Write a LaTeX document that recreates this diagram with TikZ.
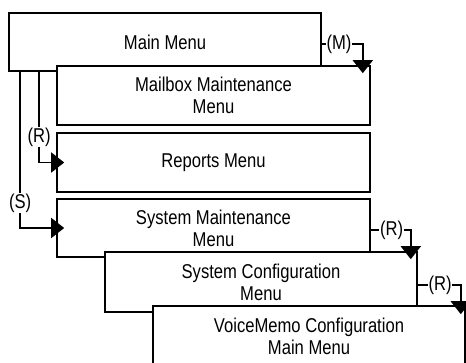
\documentclass[tikz,border=0pt]{standalone}
\usepackage{fontspec}
\setmainfont[FakeStretch=0.83]{Liberation Sans}
\usetikzlibrary{arrows.meta,calc}
\begin{document}
\begin{tikzpicture}[x=1pt,y=-1pt,
  menubox/.style={draw,fill=white,line width=1.6pt,inner sep=0pt,align=center,
    font=\fontsize{20}{22}\selectfont},
  conn/.style={line width=1.8pt,-{Triangle[width=20pt,length=13pt]}},
  lab/.style={fill=white,inner sep=0.8pt,font=\fontsize{20}{22}\selectfont}]
\useasboundingbox (0,0) rectangle (466,362);
\clip (0,0) rectangle (466,362);
\fill[white] (0,0) rectangle (466,362);
\node[menubox,minimum width=312pt,minimum height=58pt] (main) at (165,42) {Main Menu};
\node[menubox,minimum width=313pt,minimum height=59pt] (mail) at (213.5,95.5) {Mailbox Maintenance\\Menu};
\node[menubox,minimum width=313pt,minimum height=59pt] (rep) at (213.5,162.5) {Reports Menu};
\node[menubox,minimum width=313pt,minimum height=58pt] (sysm) at (213.5,228) {System Maintenance\\Menu};
\node[menubox,minimum width=312pt,minimum height=60pt] (sysc) at (261,282) {System Configuration\\Menu};
\node[menubox,minimum width=312pt,minimum height=60pt] (voice) at (309,336) {VoiceMemo Configuration\\Main Menu};
% connectors
\draw[conn] ([yshift=-2pt]main.east) -| node[lab,pos=0.21]{(M)} ($(mail.north east)+(-8,8)$);
\draw[conn] ([xshift=31pt]main.south west) |- node[lab,pos=0.36]{(R)} ([xshift=8pt]rep.west);
\draw[conn] ([xshift=12pt]main.south west) |- node[lab,pos=0.42]{(S)} ([xshift=8pt]sysm.west);
\draw[conn] ([yshift=-2pt]sysm.east) -| node[lab,pos=0.26]{(R)} ($(sysc.north east)+(-7,8)$);
\draw[conn] ([yshift=-3pt]sysc.east) -| node[lab,pos=0.26]{(R)} ($(voice.north east)+(-5,9)$);
\end{tikzpicture}
\end{document}
